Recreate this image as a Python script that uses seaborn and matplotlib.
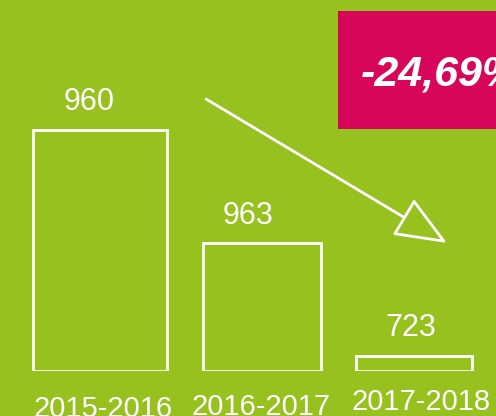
import matplotlib
matplotlib.use('Agg')
import matplotlib.pyplot as plt
import matplotlib.transforms as mtransforms
import seaborn as sns
from matplotlib.patches import Rectangle

# Dados
periodos = ['2015-2016', '2016-2017', '2017-2018']
valores = [960, 963, 723]
# altura desenhada das barras (infográfico, não proporcional aos valores)
alturas = [241, 128, 15]
variacao = '-24,69%'

verde = '#96C11F'
rosa = '#D7065B'

plt.rcParams['font.family'] = ['Liberation Sans', 'DejaVu Sans']

fig = plt.figure(figsize=(4.96, 4.16), dpi=100, facecolor=verde)
ax = fig.add_axes([0, 45 / 416, 1, 371 / 416])
ax.set_facecolor(verde)

sns.barplot(x=periodos, y=alturas, fill=False, color='white',
            linewidth=2, width=0.78, ax=ax)

ax.set_xlim(-100 / 157, 396 / 157)
ax.set_ylim(0, 371)

# Ajuste fino das larguras das barras como no original
for barra, larg, desl in zip(ax.patches, [0.85, 0.75, 0.74], [0, 0.03, 0]):
    c = barra.get_x() + barra.get_width() / 2 + desl
    barra.set_width(larg)
    barra.set_x(c - larg / 2)

# Rótulos dos valores
textos = ax.bar_label(ax.containers[0], labels=[str(v) for v in valores],
                      padding=9, fontsize=22, color='white')
for t, dx in zip(textos, [-8, -10, -2]):
    t.xyann = (dx, t.xyann[1])

ax.set_xlabel('')
ax.set_ylabel('')
ax.set_yticks([])
ax.tick_params(axis='x', length=0, pad=15, labelsize=21, labelcolor='white')
for s in ax.spines.values():
    s.set_visible(False)

# Rótulos do eixo levemente desalinhados, como no original
for lab, (dx, dy) in zip(ax.get_xticklabels(), [(3, -3), (4, -1), (7, 4)]):
    lab.set_transform(lab.get_transform() +
                      mtransforms.ScaledTranslation(dx / 100, dy / 100, fig.dpi_scale_trans))

# Caixa com a variação
fig.patches.append(Rectangle((338 / 496, (416 - 129) / 416), 158 / 496, 118 / 416,
                             transform=fig.transFigure, facecolor=rosa,
                             edgecolor='none', zorder=0))
fig.text(361 / 496, (416 - 74) / 416, variacao, color='white', fontsize=31,
         fontweight='bold', fontstyle='italic', va='center', ha='left')

# Seta
ax.annotate('', xy=(447, 173), xytext=(206, 317),
            xycoords='figure pixels', textcoords='figure pixels',
            arrowprops=dict(arrowstyle='-|>,head_length=2.2,head_width=0.9',
                            mutation_scale=15, facecolor=verde,
                            edgecolor='white', lw=2, shrinkA=0, shrinkB=0))

fig.savefig('out.png', dpi=100, facecolor=verde)
